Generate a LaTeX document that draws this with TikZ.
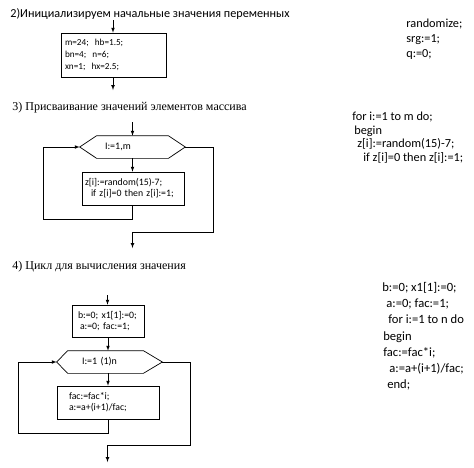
\documentclass[tikz,border=0pt]{standalone}
\usepackage{fontspec}
\setmainfont{Carlito}
\newfontfamily\serifru{Liberation Serif}
\usetikzlibrary{positioning}
\tikzset{
  title/.style={anchor=base west, inner sep=0pt, font=\fontsize{12}{14}\selectfont},
  codebox/.style={draw, rectangle, align=left, inner ysep=0pt,
    font=\fontsize{9.8}{11}\selectfont},
  hexin/.style={rectangle, align=left, minimum height=22pt, inner ysep=0pt,
    font=\fontsize{10}{10}\selectfont},
  code/.style={anchor=north west, align=left, inner sep=0pt}
}
\begin{document}
\begin{tikzpicture}[x=1pt, y=-1pt, >=latex, line width=0.7pt]
    \useasboundingbox (0,0) rectangle (474,467);
    % 2) initialization
    \node[title, font=\fontsize{12.2}{15}\selectfont] (t2) at (10,17)
      {2)Инициализируем начальные значения переменных};
    \coordinate (a0) at (113,20);
    \coordinate (a1) at (113,90);
    \node[codebox, text width=97pt, inner xsep=4pt, minimum height=44pt,
      font=\fontsize{9.2}{12}\selectfont] (init) at (113.5,55)
      {m=24;~ hb=1.5;\\bn=4;~ n=6;\\xn=1;~ hx=2.5;};
    \draw[->] (a0) -- (a0 |- init.north);
    \draw[->] (a1 |- init.south) -- (a1);
    \node[code, font=\fontsize{12.3}{15}\selectfont] (c1) at (406,19)
      {randomize;\\srg:=1;\\q:=0;};

    % 3) array elements
    \node[title, font=\serifru\fontsize{12}{14}\selectfont] (t3) at (12,110)
      {3) Присваивание значений элементов массива};
    \coordinate (b0) at (132.5,122);
    \node[hexin, text width=55pt, inner xsep=8pt] (h1) at (132.5,147) {I:=1,m};
    \coordinate (h1l) at ([xshift=-17pt]h1.west);
    \coordinate (h1r) at ([xshift=17pt]h1.east);
    \draw (h1.north west) -- (h1.north east) -- (h1r) -- (h1.south east)
      -- (h1.south west) -- (h1l) -- cycle;
    \node[codebox, text width=96pt, inner xsep=3pt, minimum height=33pt] (fill) at (133,188.5)
      {z[i]:=random(15)-7;\\\hspace{6pt}if z[i]=0 then z[i]:=1;};
    \draw[->] (b0) -- (h1.north);
    \draw[->] (h1.south) -- (h1.south |- fill.north);
    \draw[->] (h1.south |- fill.south) -- ++(0,14) -- ++(-89.5,0) |- (h1l);
    \coordinate (b1) at (132.5,248);
    \draw[->] (h1r) -- ++(28,0) |- (132.5,232) -- (b1);
    \node[code, font=\fontsize{12.3}{13.4}\selectfont] (c2) at (352,112)
      {for i:=1 to m do;\\\hspace{2pt}begin\\\hspace{5pt}z[i]:=random(15)-7;\\\hspace{11pt}if z[i]=0 then z[i]:=1;};

    % 4) computation loop
    \node[title, font=\serifru\fontsize{12}{14}\selectfont] (t4) at (12,269)
      {4) Цикл для вычисления значения};
    \coordinate (c0) at (107.5,295);
    \node[codebox, text width=60pt, inner xsep=6pt, minimum height=32pt] (start) at (108,321)
      {b:=0; x1[1]:=0;\\\hspace{2pt}a:=0; fac:=1;};
    \node[hexin, text width=47pt, inner xsep=14pt] (h2) at (105.5,362) {I:=1 (1)n};
    \coordinate (h2l) at ([xshift=-11pt]h2.west);
    \coordinate (h2r) at ([xshift=19pt]h2.east);
    \draw (h2.north west) -- (h2.north east) -- (h2r) -- (h2.south east)
      -- (h2.south west) -- (h2l) -- cycle;
    \node[codebox, text width=78pt, inner xsep=12pt, minimum height=33pt] (fac) at (108,402.5)
      {fac:=fac*i;\\a:=a+(i+1)/fac;};
    \draw[->] (c0) -- (c0 |- start.north);
    \draw[->] (start.south) -- (start.south |- h2.north);
    \draw[->] (fac.north |- h2.south) -- (fac.north);
    \draw[->] (fac.south) -- ++(0,14) -- ++(-90,0) |- (h2l);
    \coordinate (c1e) at (107.5,462);
    \draw[->] (h2r) -- ++(28,0) |- (107.5,445) -- (c1e);
    \node[code, font=\fontsize{12.6}{16.2}\selectfont] (c3) at (382,282)
      {b:=0; x1[1]:=0;\\\hspace{4pt}a:=0; fac:=1;\\\hspace{6pt}for i:=1 to n do\\\hspace{1pt}begin\\\hspace{1pt}fac:=fac*i;\\\hspace{7pt}a:=a+(i+1)/fac;\\\hspace{5pt}end;};
\end{tikzpicture}
\end{document}
